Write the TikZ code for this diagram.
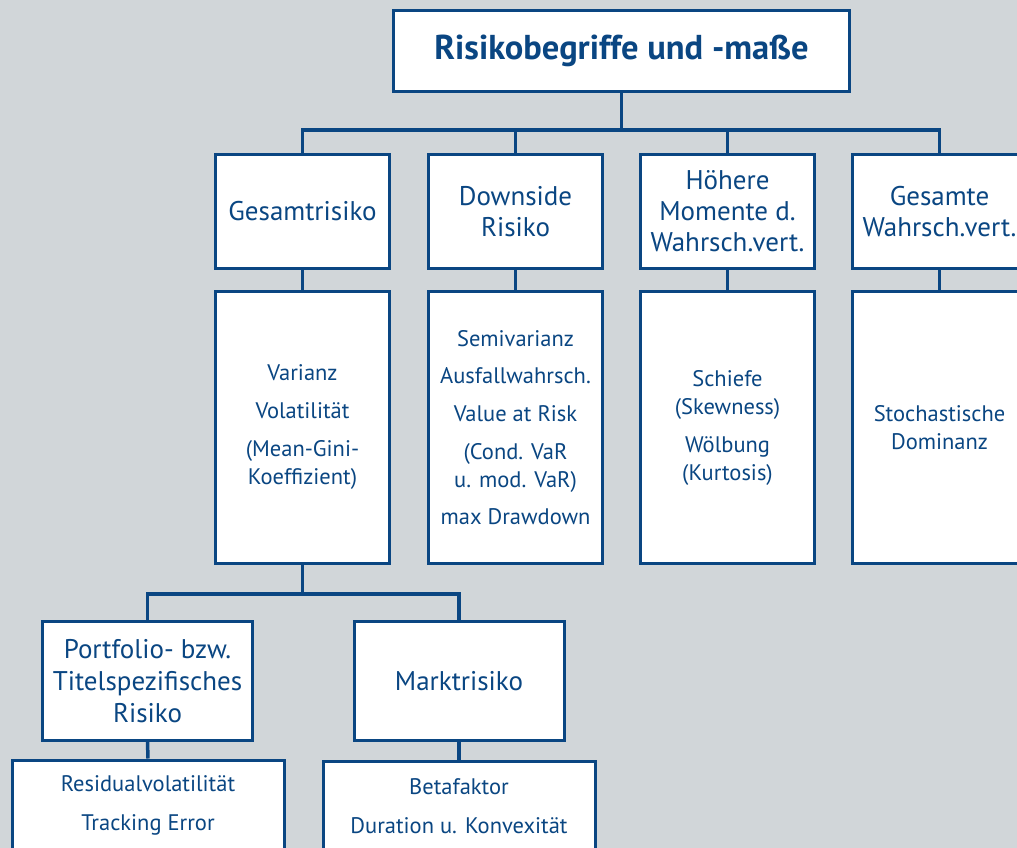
\documentclass[tikz,border=0pt]{standalone}
\usepackage{fontspec}
\setmainfont{PT Sans}
\usepackage{xcolor}
\definecolor{riskblue}{RGB}{10,70,130}
\definecolor{riskgray}{RGB}{209,214,217}

\tikzset{
  box/.style={draw=riskblue, line width=3pt, fill=white, text=riskblue, align=center, inner sep=0pt},
  head/.style={box, minimum width=174pt, minimum height=114pt, font=\fontsize{27}{31}\selectfont},
  body/.style={box, minimum width=174pt, minimum height=272pt, font=\fontsize{22.5}{28}\selectfont},
  sub/.style={box, minimum width=210pt, minimum height=119pt, font=\fontsize{27}{32}\selectfont},
  leaf/.style={box, minimum width=272pt, minimum height=90pt, font=\fontsize{22.5}{28}\selectfont},
  link/.style={draw=riskblue, line width=3.5pt},
}

\begin{document}
\begin{tikzpicture}[x=1pt, y=-1pt]
    \useasboundingbox (0,0) rectangle (1017,848);
    \fill[riskgray] (0,0) rectangle (1017,848);
    \clip (0,0) rectangle (1017,848);

    \node[box, minimum width=456pt, minimum height=81pt, font=\fontsize{34.5}{38}\selectfont\bfseries] (title) at (621.5,51) {Risikobegriffe und -maße};

    \node[head] (gesamt) at (302.5,211.5) {Gesamtrisiko};
    \node[head] (downside) at (515.5,211.5) {Downside\\Risiko};
    \node[head] (momente) at (727.5,211.5) {Höhere\\Momente d.\\Wahrsch.vert.};
    \node[head] (verteilung) at (939.5,211.5) {Gesamte\\Wahrsch.vert.};

    \node[body] (gesamtmass) at (302.5,427.5) {Varianz\\[10pt]Volatilität\\[10pt](Mean-Gini-\\Koeffizient)};
    \node[body] (downsidemass) at (515.5,427.5) {Semivarianz\\[9pt]Ausfallwahrsch.\\[10pt]Value at Risk\\[10pt](Cond. VaR\\u. mod. VaR)\\[9pt]max Drawdown};
    \node[body] (momentemass) at (727.5,427.5) {Schiefe\\(Skewness)\\[10pt]Wölbung\\(Kurtosis)};
    \node[body] (verteilungmass) at (939.5,427.5) {Stochastische\\Dominanz};

    \node[sub] (spezifisch) at (147.5,681) {Portfolio- bzw.\\Titelspezifisches\\Risiko};
    \node[sub] (markt) at (459,681) {Marktrisiko};

    \node[leaf] (residual) at (148,805) {Residualvolatilität\\[11pt]Tracking Error};
    \node[leaf] (beta) at (459,806) {Betafaktor\\[11pt]Duration u. Konvexität};

    \coordinate (bus1) at (621.5,130);
    \coordinate (bus2) at (302.5,594);

    \draw[link] (title.south) -- (bus1);
    \draw[link] (gesamt.north) |- (bus1) -| (verteilung.north);
    \draw[link] (downside.north) -- (downside.north |- bus1);
    \draw[link] (momente.north) -- (momente.north |- bus1);

    \draw[link] (gesamt.south) -- (gesamtmass.north);
    \draw[link] (downside.south) -- (downsidemass.north);
    \draw[link] (momente.south) -- (momentemass.north);
    \draw[link] (verteilung.south) -- (verteilungmass.north);

    \draw[link] (gesamtmass.south) -- (bus2);
    \draw[link] (spezifisch.north) |- (bus2) -| (markt.north);

    \draw[link] (spezifisch.south) -- (residual.north);
    \draw[link] (markt.south) -- (beta.north);
\end{tikzpicture}
\end{document}
